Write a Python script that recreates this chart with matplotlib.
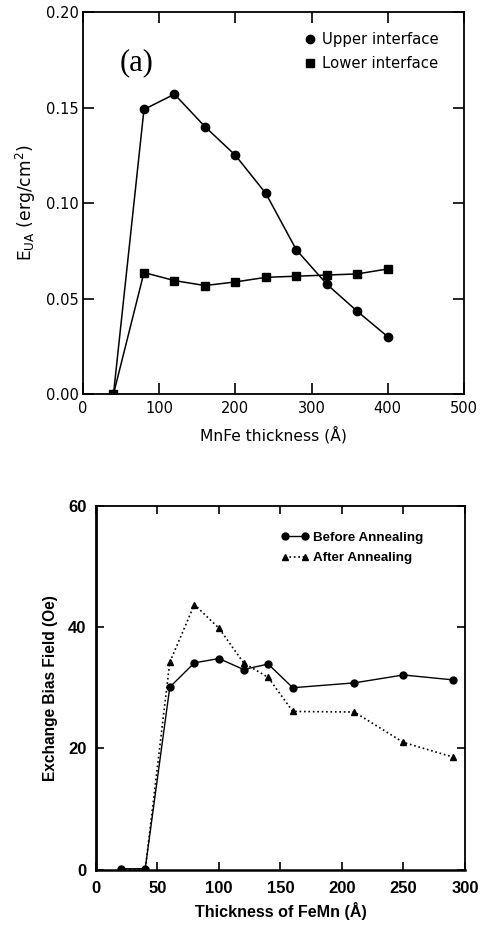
import matplotlib
matplotlib.use("Agg")
import matplotlib.pyplot as plt

# ---- data: panel (a) ----
mnfe_thickness = [40, 80, 120, 160, 200, 240, 280, 320, 360, 400]
upper_interface = [0.0, 0.149, 0.157, 0.140, 0.125, 0.105, 0.0755, 0.0575, 0.0433, 0.030]
lower_interface = [0.0, 0.0636, 0.0594, 0.0568, 0.0587, 0.0611, 0.0617, 0.0623, 0.0629, 0.0655]

# ---- data: lower panel ----
femn_thickness = [20, 40, 60, 80, 100, 120, 140, 160, 210, 250, 290]
before_annealing = [0.2, 0.2, 30.1, 34.1, 34.8, 33.0, 33.9, 30.0, 30.8, 32.1, 31.3]
after_annealing = [0.0, 0.0, 34.2, 43.7, 39.8, 34.1, 31.7, 26.1, 26.0, 21.0, 18.6]

top_xticks = [0, 100, 200, 300, 400, 500]
top_yticks = [0.00, 0.05, 0.10, 0.15, 0.20]
bot_xticks = [0, 50, 100, 150, 200, 250, 300]
bot_yticks = [0, 20, 40, 60]

plt.rcParams['font.family'] = ['DejaVu Sans']
plt.rcParams['mathtext.fontset'] = 'dejavusans'

fig = plt.figure(figsize=(4.81, 9.25), dpi=100)

# ---------- panel (a) ----------
ax1 = fig.add_axes([0.1726, 0.574, 0.792, 0.413])
ax1.plot(mnfe_thickness, upper_interface, '-o', color='black', lw=1.1, ms=6,
         label='Upper interface')
ax1.plot(mnfe_thickness, lower_interface, '-s', color='black', lw=1.1, ms=5.2,
         label='Lower interface')
ax1.set_xlim(0, 500)
ax1.set_ylim(0, 0.20)
ax1.set_xticks(top_xticks)
ax1.set_yticks(top_yticks)
ax1.set_yticklabels([f'{v:.2f}' for v in top_yticks])
ax1.tick_params(direction='in', length=8, width=1.2, top=True, right=True,
                labelsize=10.5)
ax1.tick_params(axis='x', pad=5)
ax1.tick_params(axis='y', pad=3)
for s in ax1.spines.values():
    s.set_linewidth(1.3)
ax1.set_xlabel('MnFe thickness (Å)', fontsize=11.2, labelpad=7)
ax1.set_ylabel(r'E$_{\mathrm{UA}}$ (erg/cm$^2$)', fontsize=12.3, labelpad=6)
ax1.text(0.097, 0.866, '(a)', transform=ax1.transAxes, fontsize=22,
         family='Liberation Serif', va='center', ha='left')
leg1 = ax1.legend(loc='upper left', bbox_to_anchor=(0.585, 0.948),
                  frameon=False, handlelength=0.6, handletextpad=0.5,
                  fontsize=10.7, borderaxespad=0, borderpad=0,
                  labelspacing=0.6)
for h in leg1.legend_handles:
    h.set_linestyle('None')

# ---------- lower panel ----------
bold = dict(family='Liberation Sans', weight='bold')
ax2 = fig.add_axes([0.1996, 0.0595, 0.767, 0.394])
ax2.plot(femn_thickness, before_annealing, '-o', color='black', lw=1.0, ms=5,
         label='Before Annealing')
ax2.plot(femn_thickness, after_annealing, ':^', color='black', lw=1.2, ms=5,
         label='After Annealing')
ax2.set_xlim(0, 300)
ax2.set_ylim(0, 60)
ax2.set_xticks(bot_xticks)
ax2.set_yticks(bot_yticks)
ax2.tick_params(direction='in', length=6, width=1.2, top=True, right=True,
                labelsize=12)
ax2.tick_params(axis='x', pad=8)
ax2.tick_params(axis='y', pad=7)
for lab in ax2.get_xticklabels() + ax2.get_yticklabels():
    lab.set_fontfamily('Liberation Sans')
    lab.set_fontweight('bold')
for s in ax2.spines.values():
    s.set_linewidth(1.3)
ax2.spines['left'].set_linewidth(2.0)
ax2.spines['bottom'].set_linewidth(1.8)
ax2.set_xlabel('Thickness of FeMn (Å)', fontsize=11.6, labelpad=4, **bold)
ax2.set_ylabel('Exchange Bias Field (Oe)', fontsize=11.2, labelpad=7, **bold)
leg2 = ax2.legend(loc='upper left', bbox_to_anchor=(0.501, 0.928),
                  frameon=False, handlelength=2.1, handletextpad=0.3,
                  borderaxespad=0, borderpad=0, labelspacing=0.6,
                  numpoints=2,
                  prop=dict(family='Liberation Sans', weight='bold', size=9.6))

fig.savefig('out.png', dpi=100)
